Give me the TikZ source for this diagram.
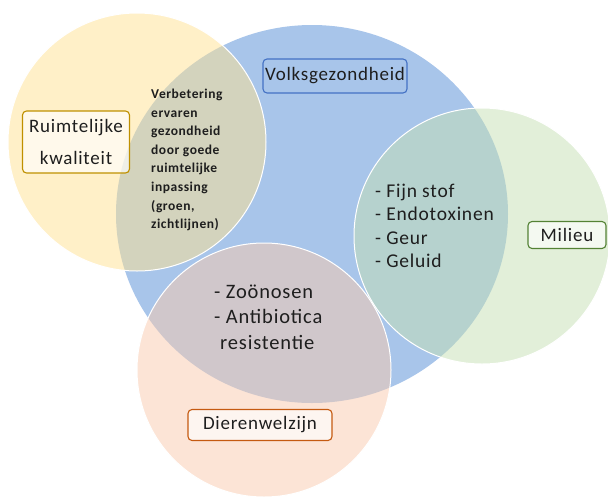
\documentclass[tikz,border=0pt]{standalone}
\usepackage{fontspec}
\setmainfont{Carlito}[LetterSpace=4]
\usetikzlibrary{shapes.geometric}
\definecolor{vgblue}{RGB}{168,197,234}
\definecolor{rkyellow}{RGB}{255,225,145}
\definecolor{mgreen}{RGB}{197,223,179}
\definecolor{dorange}{RGB}{249,201,173}
\definecolor{vgline}{RGB}{68,114,196}
\definecolor{rkline}{RGB}{191,144,0}
\definecolor{mline}{RGB}{84,130,53}
\definecolor{dline}{RGB}{197,90,17}
\definecolor{txtgray}{RGB}{30,30,30}
\tikzset{
  venn/.style = {circle, inner sep=0pt, draw=white, line width=1pt,
    fill opacity=0.5},
  venn_b/.style = {ellipse, inner sep=0pt, fill=vgblue,
    minimum width=392pt, minimum height=378pt},
  venn_y/.style = {venn, fill=rkyellow, minimum size=258pt},
  venn_g/.style = {venn, fill=mgreen, minimum size=256pt},
  venn_o/.style = {venn, fill=dorange, minimum size=254pt},
  lbl/.style = {rectangle, rounded corners=4pt, line width=1.1pt,
    inner sep=2pt, align=center, text=txtgray,
    font=\fontsize{19}{32}\selectfont},
  lbl_w/.style = {lbl, fill=white, fill opacity=0.65, text opacity=1},
  txt/.style = {align=left, inner sep=0pt, text=txtgray}
}
\begin{document}
\begin{tikzpicture}[x=1pt,y=-1pt]
  \useasboundingbox (0,0) rectangle (608,496);
  % circles
  \node [venn_b] (vg) at (312,214) {};
  \node [venn_y] (rk) at (137,142) {};
  \node [venn_g] (mi) at (482,236) {};
  \node [venn_o] (dw) at (264,370) {};
  % labels
  \node [lbl, draw=vgline, minimum width=144pt, minimum height=34pt]
    (vg_l) at (335,76) {Volksgezondheid};
  \node [lbl_w, draw=rkline, minimum width=107pt, minimum height=62pt]
    (rk_l) at (76,142) {Ruimtelijke\\kwaliteit};
  \node [lbl_w, draw=mline, minimum width=78pt, minimum height=27pt]
    (mi_l) at (567,235) {Milieu};
  \node [lbl_w, draw=dline, minimum width=144pt, minimum height=31pt]
    (dw_l) at (260,425) {Dierenwelzijn};
  % overlaps
  \node [txt, anchor=west, font=\bfseries\fontsize{13.5}{18.6}\selectfont]
    (rk_vg) at (151,160) {Verbetering\\ervaren\\gezondheid\\door goede\\ruimtelijke\\inpassing\\(groen,\\zichtlijnen)};
  \node [txt, anchor=west, font=\fontsize{19.5}{23.5}\selectfont]
    (mi_vg) at (375,226) {- Fijn stof\\- Endotoxinen\\- Geur\\- Geluid};
  \node [txt, anchor=west, font=\fontsize{20.5}{25.5}\selectfont]
    (dw_vg) at (214,317) {- Zoönosen\\- Antibiotica\\\hspace{6pt}resistentie};
\end{tikzpicture}
\end{document}
